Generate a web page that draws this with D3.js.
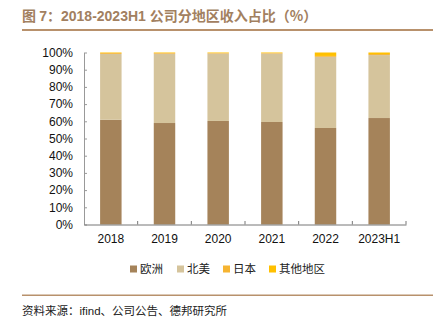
<!DOCTYPE html>
<html><head><meta charset="utf-8">
<script src="https://cdn.jsdelivr.net/npm/d3@7/dist/d3.min.js"></script>
<style>body{margin:0;background:#fff;}svg{display:block;}</style>
</head><body>
<svg id="c" width="437" height="329"></svg>
<script>
const categories = ["2018","2019","2020","2021","2022","2023H1"];
const europe = [60.9, 59.0, 60.2, 59.6, 56.1, 61.9];
const northAmerica = [38.3, 40.3, 39.2, 39.8, 41.4, 36.6];
const japan = [0.5, 0.4, 0.3, 0.3, 0.5, 0.6];
const others = [0.3, 0.3, 0.3, 0.3, 2.0, 0.9];
const seriesNames = ["欧洲","北美","日本","其他地区"];
const yTicks = [0,10,20,30,40,50,60,70,80,90,100];
const colors = ["#A5835A","#D5C49C","#F6B431","#FFC000"];

const svg = d3.select("#c");
const cjk = "'Noto Sans CJK SC', sans-serif";
const lat = "'Liberation Sans', Arial, sans-serif";

// title
const t = svg.append("text").attr("x",22).attr("y",21).attr("fill","#A28060")
  .attr("font-weight","bold").attr("font-size",14);
t.append("tspan").attr("font-family",cjk).text("图 ");
t.append("tspan").attr("font-family",lat).text("7");
t.append("tspan").attr("font-family",cjk).text("：");
t.append("tspan").attr("font-family",lat).text("2018-2023H1 ");
t.append("tspan").attr("font-family",cjk).text("公司分地区收入占比（%）");
svg.append("rect").attr("x",22).attr("y",29).attr("width",411).attr("height",2).attr("fill","#B8916C");

const x = d3.scaleBand().domain(categories).range([84,406]).paddingInner(0.6).paddingOuter(0.3);
const xb = d3.scaleBand().domain(categories).range([84,406]);
const y = d3.scaleLinear().domain([0,100]).range([224.5,52.5]);

const data = categories.map((c,i)=>({cat:c, "欧洲":europe[i], "北美":northAmerica[i], "日本":japan[i], "其他地区":others[i]}));
const stack = d3.stack().keys(seriesNames)(data);

svg.append("g").selectAll("g").data(stack).join("g").attr("fill",(d,i)=>colors[i])
  .selectAll("rect").data(d=>d).join("rect")
  .attr("x",d=>x(d.data.cat)).attr("width",x.bandwidth())
  .attr("y",d=>y(d[1])).attr("height",d=>y(d[0])-y(d[1]));

// y axis
const ya = svg.append("g").attr("transform","translate(84,0)")
  .call(d3.axisLeft(y).tickValues(yTicks).tickFormat(d=>d+"%").tickSizeInner(-3).tickSizeOuter(0).tickPadding(11));
ya.select(".domain").attr("stroke","#999");
ya.selectAll(".tick line").attr("stroke","#999");
ya.selectAll("text").attr("font-family",lat).attr("font-size",12).attr("fill","#111");

// x axis
const xa = svg.append("g").attr("transform","translate(0,224.5)")
  .call(d3.axisBottom(xb).tickSize(0).tickPadding(10));
xa.select(".domain").attr("stroke","#777");
xa.selectAll("text").attr("font-family",lat).attr("font-size",12).attr("fill","#111");
svg.append("g").selectAll("line").data(categories.slice(1).concat(["end"])).join("line")
  .attr("x1",(d,i)=>xb(categories[i])+xb.bandwidth()).attr("x2",(d,i)=>xb(categories[i])+xb.bandwidth())
  .attr("y1",224.5).attr("y2",221).attr("stroke","#777");

// legend
const lx = [130,177,223,269];
const lg = svg.append("g").selectAll("g").data(seriesNames).join("g")
  .attr("transform",(d,i)=>`translate(${lx[i]},269)`);
lg.append("rect").attr("x",0).attr("y",-3.5).attr("width",7).attr("height",7).attr("fill",(d,i)=>colors[i]);
lg.append("text").attr("x",10).attr("y",4).attr("font-family",cjk).attr("font-size",11.5).attr("fill","#222").text(d=>d);

// footer
svg.append("rect").attr("x",22).attr("y",294.5).attr("width",411).attr("height",1.5).attr("fill","#B8916C");
const s = svg.append("text").attr("x",22).attr("y",315).attr("font-size",11.5).attr("fill","#222");
s.append("tspan").attr("font-family",cjk).text("资料来源：");
s.append("tspan").attr("font-family",lat).text("ifind");
s.append("tspan").attr("font-family",cjk).text("、公司公告、德邦研究所");
</script>
</body></html>
